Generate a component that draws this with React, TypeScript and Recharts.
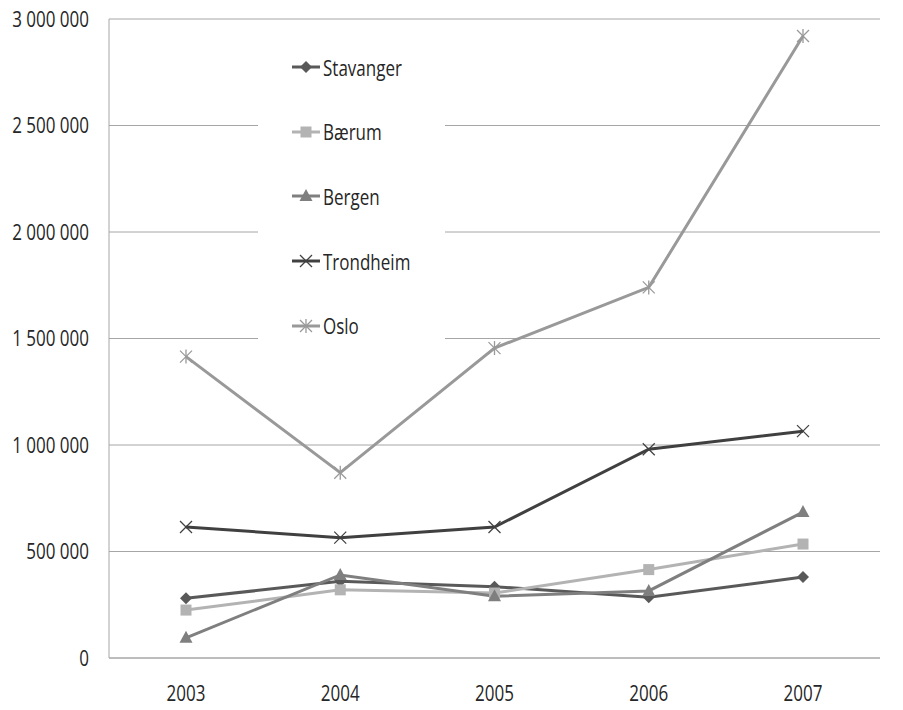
import { LineChart, Line, XAxis, YAxis, CartesianGrid, Legend } from 'recharts'

const years = ['2003', '2004', '2005', '2006', '2007']
const stavanger = [280000, 360000, 335000, 285000, 380000]
const baerum = [225000, 320000, 305000, 415000, 535000]
const bergen = [95000, 390000, 290000, 315000, 685000]
const trondheim = [615000, 565000, 615000, 980000, 1065000]
const oslo = [1415000, 870000, 1455000, 1740000, 2920000]
const yTicks = [0, 500000, 1000000, 1500000, 2000000, 2500000, 3000000]

const series = [
  { key: 'Stavanger', values: stavanger, color: '#595959', shape: 'diamond' },
  { key: 'Bærum', values: baerum, color: '#b3b3b3', shape: 'square' },
  { key: 'Bergen', values: bergen, color: '#7f7f7f', shape: 'triangle' },
  { key: 'Trondheim', values: trondheim, color: '#404040', shape: 'x' },
  { key: 'Oslo', values: oslo, color: '#999999', shape: 'star' },
]

const data = years.map((y, i) => {
  const row: Record<string, string | number> = { year: y }
  series.forEach(s => { row[s.key] = s.values[i] })
  return row
})

const FONT = "'Open Sans', 'Noto Sans', sans-serif"
const STRETCH = 1.28 // the original text is drawn taller than it is wide
const fmtNum = (v: number) => String(v).replace(/\B(?=(\d{3})+(?!\d))/g, ' ')

function Marker({ shape, cx, cy, color }: { shape: string; cx: number; cy: number; color: string }) {
  if (shape === 'diamond')
    return <polygon points={`${cx},${cy - 6} ${cx + 6},${cy} ${cx},${cy + 6} ${cx - 6},${cy}`} fill={color} />
  if (shape === 'square')
    return <rect x={cx - 5.5} y={cy - 5.5} width={11} height={11} fill={color} />
  if (shape === 'triangle')
    return <polygon points={`${cx},${cy - 7} ${cx + 6.5},${cy + 5} ${cx - 6.5},${cy + 5}`} fill={color} />
  const arms = (
    <>
      <line x1={cx - 6} y1={cy - 6} x2={cx + 6} y2={cy + 6} stroke={color} strokeWidth={1.3} />
      <line x1={cx - 6} y1={cy + 6} x2={cx + 6} y2={cy - 6} stroke={color} strokeWidth={1.3} />
    </>
  )
  if (shape === 'x') return <g>{arms}</g>
  return (
    <g>
      {arms}
      <line x1={cx} y1={cy - 7} x2={cx} y2={cy + 7} stroke={color} strokeWidth={1.3} />
    </g>
  )
}

const makeDot = (shape: string, color: string) => (props: any) => (
  <Marker key={`${shape}-${props.index}`} shape={shape} cx={props.cx} cy={props.cy} color={color} />
)

const StretchTick = (anchor: string, fmt?: (v: any) => string) => (props: any) => {
  const { x, y, payload } = props
  return (
    <g transform={`translate(${x},${y}) scale(1,${STRETCH})`}>
      <text textAnchor={anchor} dy="0.36em" fontSize={17} fill="#262626" fontFamily={FONT}>
        {fmt ? fmt(payload.value) : payload.value}
      </text>
    </g>
  )
}

function LegendBox() {
  return (
    <div style={{ background: '#fff', width: 187, height: 323, paddingLeft: 34, boxSizing: 'border-box' }}>
      {series.map(s => (
        <div key={s.key} style={{ height: 64.6, display: 'flex', alignItems: 'center' }}>
          <svg width={30} height={16} style={{ overflow: 'visible' }}>
            <line x1={0} y1={8} x2={28} y2={8} stroke={s.color} strokeWidth={3} />
            <Marker shape={s.shape} cx={14} cy={8} color={s.color} />
          </svg>
          <span
            style={{
              fontFamily: FONT, fontSize: 17, color: '#262626', marginLeft: 1,
              display: 'inline-block', transform: `scaleY(${STRETCH})`,
            }}
          >
            {s.key}
          </span>
        </div>
      ))}
    </div>
  )
}

export default function App() {
  return (
    <div style={{ position: 'absolute', left: 0, top: 0, background: '#fff' }}>
      <LineChart width={903} height={710} data={data} margin={{ top: 19, right: 23, bottom: 22, left: 0 }}>
        <CartesianGrid vertical={false} stroke="#a6a6a6" strokeWidth={1} />
        <XAxis
          dataKey="year"
          height={30}
          padding={{ left: 77, right: 77 }}
          axisLine={{ stroke: '#a6a6a6' }}
          tickLine={false}
          tickSize={0}
          tickMargin={35}
          tick={StretchTick('middle')}
        />
        <YAxis
          width={109}
          domain={[0, 3000000]}
          ticks={yTicks}
          axisLine={{ stroke: '#a6a6a6' }}
          tickLine={false}
          tickSize={0}
          tickMargin={20}
          tick={StretchTick('end', fmtNum)}
        />
        <Legend
          layout="vertical"
          align="center"
          verticalAlign="middle"
          content={() => <LegendBox />}
          wrapperStyle={{ left: 258, top: 35, width: 187, height: 323 }}
        />
        {series.map(s => (
          <Line
            key={s.key}
            dataKey={s.key}
            stroke={s.color}
            strokeWidth={3}
            dot={makeDot(s.shape, s.color)}
            activeDot={false}
            isAnimationActive={false}
          />
        ))}
      </LineChart>
    </div>
  )
}
